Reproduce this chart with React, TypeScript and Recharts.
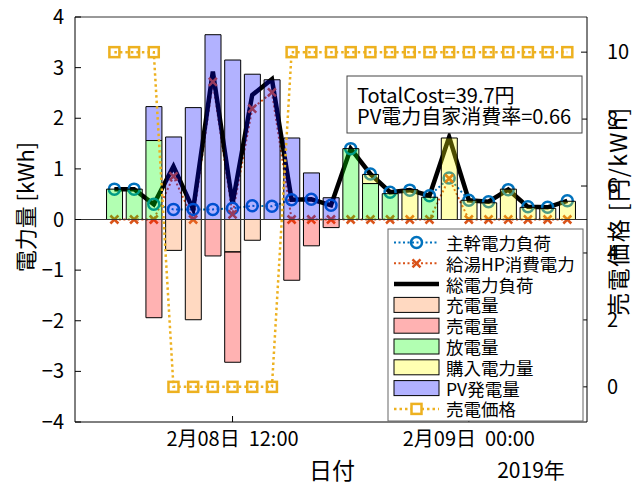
import React from 'react';
import { ComposedChart, Bar, Line, XAxis, YAxis, ReferenceLine } from 'recharts';

const FONT = '"Noto Sans CJK JP", "Noto Sans", sans-serif';

// hours counted from 2019-02-08 00:00
const hours = [6, 7, 8, 9, 10, 11, 12, 13, 14, 15, 16, 17, 18, 19, 20, 21, 22, 23, 24, 25, 26, 27, 28, 29];

// line series [kWh]
const mainLoad = [0.6, 0.6, 0.3, 0.2, 0.2, 0.2, 0.22, 0.27, 0.26, 0.39, 0.4, 0.28, 1.4, 0.9, 0.54, 0.58, 0.47, 0.82, 0.38, 0.35, 0.59, 0.25, 0.24, 0.37];
const hpPower = [0, 0, 0, 0.85, 0, 2.72, 0.1, 2.19, 2.51, 0, 0, 0, 0, 0, 0, 0, 0, 0.81, 0, 0, 0, 0, 0, 0];
const totalLoad = [0.6, 0.6, 0.3, 1.05, 0.2, 2.92, 0.32, 2.46, 2.77, 0.39, 0.4, 0.28, 1.4, 0.9, 0.54, 0.58, 0.47, 1.63, 0.38, 0.35, 0.59, 0.25, 0.24, 0.37];

// stacked bars [kWh]
const charge = [0, 0, 0, -0.61, -1.98, 0, -0.64, -0.41, 0, 0, 0, 0, 0, 0, 0, 0, 0, 0, 0, 0, 0, 0, 0, 0];
const sold = [0, 0, -1.94, 0, 0, -0.72, -2.18, 0, 0, -1.2, -0.52, -0.16, 0, 0, 0, 0, 0, 0, 0, 0, 0, 0, 0, 0];
const discharge = [0.6, 0.6, 1.56, 0, 0, 0, 0, 0, 0, 0, 0, 0, 1.4, 0.71, 0.51, 0, 0.44, 0, 0, 0, 0, 0, 0, 0];
const purchase = [0, 0, 0, 0, 0, 0, 0, 0, 0, 0, 0, 0, 0, 0.18, 0, 0.59, 0, 1.61, 0.38, 0.33, 0.6, 0.24, 0.22, 0.36];
const pv = [0, 0, 0.67, 1.63, 2.21, 3.65, 3.15, 2.87, 2.76, 1.61, 0.92, 0.43, 0, 0, 0, 0, 0, 0, 0, 0, 0, 0, 0, 0];

// right axis [円/kWh]
const sellPrice = [10, 10, 10, 0, 0, 0, 0, 0, 0, 10, 10, 10, 10, 10, 10, 10, 10, 10, 10, 10, 10, 10, 10, 10];

const xTicks = [12, 24];
const xTickLabels = ['2月08日\u00a0\u00a012:00', '2月09日\u00a0\u00a000:00'];
const leftTicks = [-4, -3, -2, -1, 0, 1, 2, 3, 4];
const rightTicks = [0, 2, 4, 6, 8, 10];

const BLUE = '#0072BD';
const ORANGE = '#D95319';
const GOLD = '#EDB120';

const data = hours.map((h, i) => ({
  hour: h,
  main: mainLoad[i],
  hp: hpPower[i],
  total: totalLoad[i],
  charge: charge[i],
  sold: sold[i],
  discharge: discharge[i],
  purchase: purchase[i],
  pv: pv[i],
  price: sellPrice[i],
}));

const circleDot = (p: any) => (
  <circle key={`c-${p.index}`} cx={p.cx} cy={p.cy} r={5.5} fill="none" stroke={BLUE} strokeWidth={2.5} />
);

const crossDot = (p: any) => (
  <path
    key={`x-${p.index}`}
    d={`M${p.cx - 4},${p.cy - 4}L${p.cx + 4},${p.cy + 4}M${p.cx - 4},${p.cy + 4}L${p.cx + 4},${p.cy - 4}`}
    stroke={ORANGE}
    strokeWidth={2.5}
    fill="none"
  />
);

const squareDot = (p: any) => (
  <rect key={`s-${p.index}`} x={p.cx - 5} y={p.cy - 5} width={10} height={10} fill="none" stroke={GOLD} strokeWidth={2.5} />
);

const legendRows = [
  { name: '主幹電力負荷', kind: 'line', color: BLUE, dash: '2 2.5', width: 2, marker: 'circle' },
  { name: '給湯HP消費電力', kind: 'line', color: ORANGE, dash: '2 2.5', width: 2, marker: 'cross' },
  { name: '総電力負荷', kind: 'line', color: '#000', dash: undefined, width: 4.5, marker: 'none' },
  { name: '充電量', kind: 'bar', color: '#FF8033' },
  { name: '売電量', kind: 'bar', color: '#FF0000' },
  { name: '放電量', kind: 'bar', color: '#00FF00' },
  { name: '購入電力量', kind: 'bar', color: '#FFFF00' },
  { name: 'PV発電量', kind: 'bar', color: '#0000FF' },
  { name: '売電価格', kind: 'line', color: GOLD, dash: '2.5 3', width: 2.5, marker: 'square' },
];

function LegendBox() {
  const x0 = 388;
  const y0 = 229;
  return (
    <g>
      <rect x={x0} y={y0} width={195} height={192} fill="#fff" stroke="#666" strokeWidth={1} />
      {legendRows.map((r, i) => {
        const cy = y0 + 13.5 + i * 20.8;
        const sx = 394;
        const sw = 45;
        const mx = sx + sw / 2;
        return (
          <g key={r.name}>
            {r.kind === 'bar' ? (
              <rect x={sx} y={cy - 7.5} width={sw} height={15} fill={r.color} fillOpacity={0.3} stroke="#000" strokeWidth={1} />
            ) : (
              <line x1={sx} x2={sx + sw} y1={cy} y2={cy} stroke={r.color} strokeWidth={r.width} strokeDasharray={r.dash} />
            )}
            {r.marker === 'circle' && <circle cx={mx} cy={cy} r={5.5} fill="none" stroke={BLUE} strokeWidth={2.5} />}
            {r.marker === 'cross' && (
              <path d={`M${mx - 4},${cy - 4}L${mx + 4},${cy + 4}M${mx - 4},${cy + 4}L${mx + 4},${cy - 4}`} stroke={ORANGE} strokeWidth={2.5} />
            )}
            {r.marker === 'square' && <rect x={mx - 5} y={cy - 5} width={10} height={10} fill="#fff" stroke={GOLD} strokeWidth={2.5} />}
            <text x={446} y={cy} dominantBaseline="central" fontSize={17.5} fill="#000">
              {r.name}
            </text>
          </g>
        );
      })}
    </g>
  );
}

const chartMargin = { top: 17, right: 0, bottom: 34, left: 0 };
const tickStyle = { fontSize: 20, fill: '#000', fontFamily: FONT };
const layer: React.CSSProperties = { position: 'absolute', left: 0, top: 0 };

// same axes in both layers so the scales line up; `visible` turns the drawing on/off
function Axes({ visible }: { visible: boolean }) {
  const stroke = visible ? '#000' : 'none';
  return (
    <>
      <XAxis
        dataKey="hour"
        type="number"
        domain={[4, 30]}
        ticks={xTicks}
        tickFormatter={(v: number) => xTickLabels[xTicks.indexOf(v)] ?? ''}
        allowDataOverflow
        height={30}
        tickSize={-6}
        tickMargin={16}
        stroke={stroke}
        tick={visible ? tickStyle : false}
      />
      <YAxis
        yAxisId="left"
        domain={[-4, 4]}
        ticks={leftTicks}
        allowDataOverflow
        width={75}
        tickSize={-6}
        tickMargin={17}
        stroke={stroke}
        tickFormatter={(v: number) => (v < 0 ? `\u2212${Math.abs(v)}` : String(v))}
        tick={visible ? tickStyle : false}
      />
      <YAxis
        yAxisId="right"
        orientation="right"
        domain={[-1.05, 11.05]}
        ticks={rightTicks}
        allowDataOverflow
        width={45}
        tickSize={-6}
        tickMargin={26}
        stroke={stroke}
        tick={visible ? tickStyle : false}
      />
    </>
  );
}

export default function App() {
  return (
    <div style={{ position: 'absolute', left: 0, top: 0, width: 632, height: 486, background: '#fff', fontFamily: FONT }}>
      {/* bottom layer: load lines, seen through the translucent bars */}
      <div style={layer}>
        <ComposedChart width={632} height={486} data={data} margin={chartMargin}>
          {Axes({ visible: false })}
          <Line yAxisId="left" dataKey="main" name="主幹電力負荷" type="linear" stroke={BLUE} strokeWidth={2} strokeDasharray="2 2.5" dot={circleDot} activeDot={false} isAnimationActive={false} />
          <Line yAxisId="left" dataKey="hp" name="給湯HP消費電力" type="linear" stroke={ORANGE} strokeWidth={2} strokeDasharray="2 2.5" dot={crossDot} activeDot={false} isAnimationActive={false} />
          <Line yAxisId="left" dataKey="total" name="総電力負荷" type="linear" stroke="#000" strokeWidth={4.5} dot={false} activeDot={false} isAnimationActive={false} />
        </ComposedChart>
      </div>

      {/* top layer: bars, price line, axes */}
      <div style={layer}>
        <ComposedChart width={632} height={486} data={data} stackOffset="sign" barGap={0} barCategoryGap={0} margin={chartMargin}>
          {Axes({ visible: true })}
          <ReferenceLine yAxisId="left" y={4} stroke="#333" strokeWidth={1} />
          <ReferenceLine yAxisId="left" y={0} stroke="#333" strokeWidth={1} />
          <Bar yAxisId="left" dataKey="charge" name="充電量" stackId="e" barSize={16} fill="#FF8033" fillOpacity={0.3} stroke="#000" strokeWidth={1} isAnimationActive={false} />
          <Bar yAxisId="left" dataKey="sold" name="売電量" stackId="e" barSize={16} fill="#FF0000" fillOpacity={0.3} stroke="#000" strokeWidth={1} isAnimationActive={false} />
          <Bar yAxisId="left" dataKey="discharge" name="放電量" stackId="e" barSize={16} fill="#00FF00" fillOpacity={0.3} stroke="#000" strokeWidth={1} isAnimationActive={false} />
          <Bar yAxisId="left" dataKey="purchase" name="購入電力量" stackId="e" barSize={16} fill="#FFFF00" fillOpacity={0.3} stroke="#000" strokeWidth={1} isAnimationActive={false} />
          <Bar yAxisId="left" dataKey="pv" name="PV発電量" stackId="e" barSize={16} fill="#0000FF" fillOpacity={0.3} stroke="#000" strokeWidth={1} isAnimationActive={false} />
          <Line yAxisId="right" dataKey="price" name="売電価格" type="linear" stroke={GOLD} strokeWidth={2.5} strokeDasharray="2.5 3" dot={squareDot} activeDot={false} isAnimationActive={false} />
        </ComposedChart>
      </div>

      <svg width={632} height={486} style={{ ...layer, pointerEvents: 'none' }} fontFamily={FONT}>
        <text transform="translate(24,207) rotate(-90)" textAnchor="middle" dominantBaseline="central" fontSize={22} fill="#000">
          電力量 [kWh]
        </text>
        <text transform="translate(617,211) rotate(-90)" textAnchor="middle" dominantBaseline="central" fontSize={23} letterSpacing={1.5} fill="#000">
          売電価格 [円/kWh]
        </text>
        <text x={332} y={469} textAnchor="middle" dominantBaseline="central" fontSize={23} fill="#000">
          日付
        </text>
        <text x={531} y={469} textAnchor="middle" dominantBaseline="central" fontSize={21} fill="#000">
          2019年
        </text>

        <rect x={347} y={76} width={235} height={57} fill="#fff" stroke="#444" strokeWidth={1} />
        <text x={357} y={94.5} dominantBaseline="central" fontSize={20} fill="#000">
          TotalCost=39.7円
        </text>
        <text x={357} y={115} dominantBaseline="central" fontSize={20} fill="#000">
          PV電力自家消費率=0.66
        </text>

        <LegendBox />
      </svg>
    </div>
  );
}
